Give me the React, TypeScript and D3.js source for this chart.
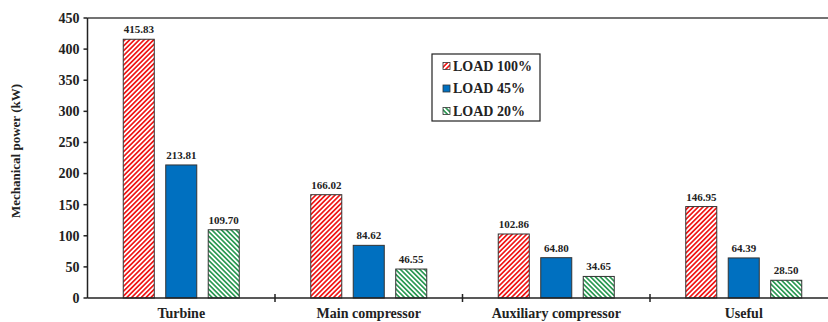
import React from "react";
import * as d3 from "d3";

const categories = ["Turbine", "Main compressor", "Auxiliary compressor", "Useful"];
const seriesNames = ["LOAD 100%", "LOAD 45%", "LOAD 20%"];
const load100 = [415.83, 166.02, 102.86, 146.95];
const load45 = [213.81, 84.62, 64.8, 64.39];
const load20 = [109.7, 46.55, 34.65, 28.5];
const yTicks = [0, 50, 100, 150, 200, 250, 300, 350, 400, 450];

const W = 828;
const H = 322;
const margin = { left: 87.5, right: -9.5, top: 18, bottom: 24 };
const FONT = "'Liberation Serif', 'Times New Roman', serif";

export default function App() {
  const x = d3
    .scaleBand<string>()
    .domain(categories)
    .range([margin.left, W - margin.right]);
  const y = d3.scaleLinear().domain([0, 450]).range([H - margin.bottom, margin.top]);
  const inner = d3
    .scaleBand<string>()
    .domain(seriesNames)
    .range([x.bandwidth() / 2 - 58, x.bandwidth() / 2 + 58])
    .paddingInner(0.27);

  const series = [
    { name: seriesNames[0], values: load100, fill: "url(#hatchRed)" },
    { name: seriesNames[1], values: load45, fill: "#0070c0" },
    { name: seriesNames[2], values: load20, fill: "url(#hatchGreen)" },
  ];

  const y0 = y(0);
  const boundaries = categories.map((c) => (x(c) as number) + x.bandwidth()).slice(0, 3);

  return (
    <svg width={W} height={H} style={{ position: "absolute", left: 0, top: 0, background: "#fff" }}>
      <defs>
        <pattern id="hatchRed" patternUnits="userSpaceOnUse" width="3.4" height="3.4" patternTransform="rotate(45)">
          <rect width="3.4" height="3.4" fill="#fff" />
          <rect width="1.7" height="3.4" fill="#f01818" />
        </pattern>
        <pattern id="hatchGreen" patternUnits="userSpaceOnUse" width="3.4" height="3.4" patternTransform="rotate(-45)">
          <rect width="3.4" height="3.4" fill="#fff" />
          <rect width="1.7" height="3.4" fill="#2e9a55" />
        </pattern>
      </defs>

      {/* bars */}
      {series.map((s) => (
        <g key={s.name}>
          {categories.map((c, i) => {
            const bx = (x(c) as number) + (inner(s.name) as number);
            const by = y(s.values[i]);
            return (
              <g key={c}>
                <rect
                  x={bx}
                  y={by}
                  width={inner.bandwidth()}
                  height={y0 - by}
                  fill={s.fill}
                  stroke="#333"
                  strokeWidth={1}
                />
                <text
                  x={bx + inner.bandwidth() / 2}
                  y={by - 6}
                  textAnchor="middle"
                  fontFamily={FONT}
                  fontWeight="bold"
                  fontSize={11}
                  fill="#222"
                >
                  {s.values[i].toFixed(2)}
                </text>
              </g>
            );
          })}
        </g>
      ))}

      {/* axes */}
      <line x1={margin.left} x2={W} y1={margin.top} y2={margin.top} stroke="#444" strokeWidth={1.5} />
      <line x1={margin.left} x2={margin.left} y1={margin.top} y2={y0} stroke="#222" strokeWidth={1.5} />
      <line x1={margin.left} x2={W} y1={y0} y2={y0} stroke="#222" strokeWidth={1.5} />
      {yTicks.map((t) => (
        <g key={t}>
          <line x1={margin.left - 4} x2={margin.left} y1={y(t)} y2={y(t)} stroke="#222" strokeWidth={1.5} />
          <text
            x={margin.left - 8}
            y={y(t)}
            dy="0.35em"
            textAnchor="end"
            fontFamily={FONT}
            fontWeight="bold"
            fontSize={14}
            fill="#222"
          >
            {t}
          </text>
        </g>
      ))}
      {boundaries.map((b, i) => (
        <line key={i} x1={b} x2={b} y1={y0 - 4} y2={y0 + 4} stroke="#222" strokeWidth={1.5} />
      ))}
      {categories.map((c) => (
        <text
          key={c}
          x={(x(c) as number) + x.bandwidth() / 2}
          y={318}
          textAnchor="middle"
          fontFamily={FONT}
          fontWeight="bold"
          fontSize={14}
          fill="#222"
        >
          {c}
        </text>
      ))}
      <text
        transform={`translate(20,151) rotate(-90)`}
        textAnchor="middle"
        fontFamily={FONT}
        fontWeight="bold"
        fontSize={13}
        fill="#222"
      >
        Mechanical power (kW)
      </text>

      {/* legend */}
      <rect x={432} y={54} width={108} height={67} fill="#fff" stroke="#222" strokeWidth={1.2} />
      {series.map((s, i) => (
        <g key={s.name} transform={`translate(443,${66 + i * 22.5})`}>
          <rect x={0} y={-3.5} width={7} height={7} fill={s.fill} stroke="#333" strokeWidth={0.8} />
          <text x={10} y={0} dy="0.35em" fontFamily={FONT} fontWeight="bold" fontSize={14} fill="#222">
            {s.name}
          </text>
        </g>
      ))}
    </svg>
  );
}
